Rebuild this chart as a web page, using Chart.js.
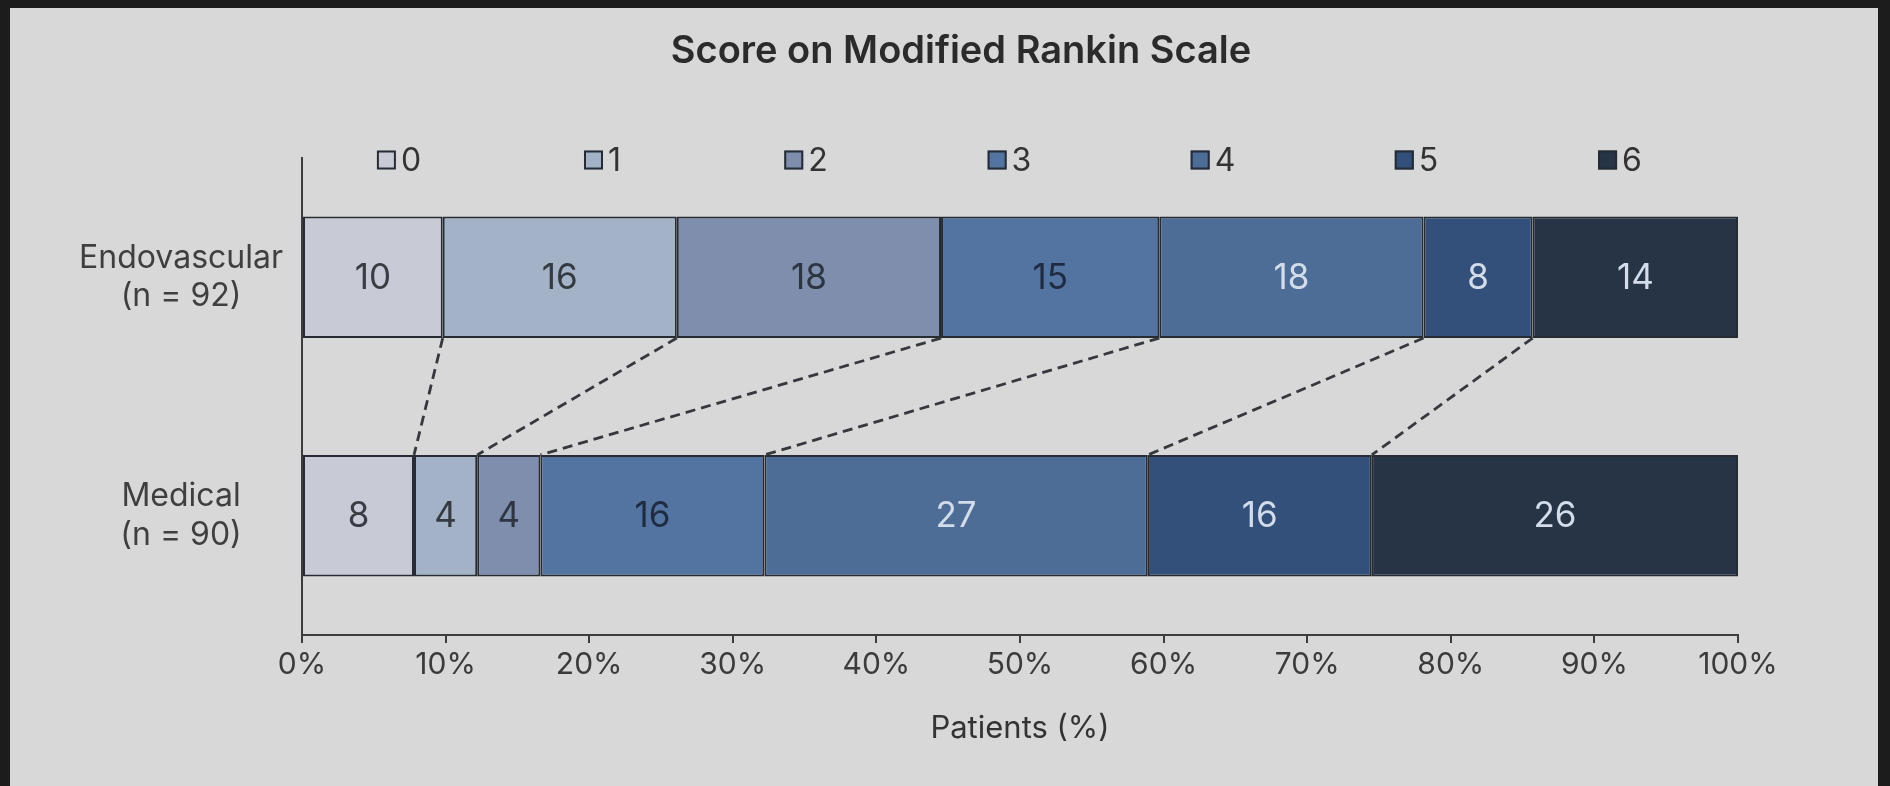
<!DOCTYPE html>
<html>
<head>
<meta charset="utf-8">
<script src="https://cdn.jsdelivr.net/npm/chart.js@4/dist/chart.umd.min.js"></script>
<style>
  html, body { margin: 0; padding: 0; background: #1c1c1c; width: 1890px; height: 786px; overflow: hidden; }
  #panel { position: absolute; left: 10px; top: 8px; right: 12px; bottom: 0; background: #d8d8d8; }
  #chart { position: absolute; left: 0; top: 0; }
</style>
</head>
<body>
<div id="panel"></div>
<canvas id="chart" width="1890" height="786"></canvas>
<script>
// Groups and modified Rankin scores
const groups = [['Endovascular', '(n = 92)'], ['Medical', '(n = 90)']];
const scores = ['0', '1', '2', '3', '4', '5', '6'];

// Share of patients (%) with each score, per group
const endovascularPct = [9.8, 16.3, 18.4, 15.2, 18.4, 7.6, 14.3];
const medicalPct = [7.8, 4.4, 4.4, 15.6, 26.7, 15.6, 25.5];

// Axis ticks (%)
const xTicks = [0, 10, 20, 30, 40, 50, 60, 70, 80, 90, 100];

const fills = ['#c8cbd5', '#a3b2c6', '#7e8eac', '#5374a1', '#4d6d97', '#32507a', '#263446'];
const labelInk = ['#3a3d44', '#353a42', '#2e3542', '#1f2b40', '#d3dcea', '#d3dcea', '#d3dcea'];
const edge = '#272c34';
const FONT = 'Inter, "Noto Sans", sans-serif';

const datasets = scores.map((s, i) => ({
  label: s,
  data: [endovascularPct[i], medicalPct[i]],
  backgroundColor: fills[i],
  borderColor: edge,
  borderWidth: 2,
  borderSkipped: false,
  categoryPercentage: 1,
  barPercentage: 0.51
}));

// Title and legend drawn above the plot
const headerPlugin = {
  id: 'header',
  afterDraw(chart) {
    const ctx = chart.ctx;
    ctx.save();
    ctx.fillStyle = '#2b2b2b';
    ctx.font = '600 38px ' + FONT;
    ctx.textAlign = 'center';
    ctx.textBaseline = 'middle';
    ctx.fillText('Score on Modified Rankin Scale', 961, 52);

    const start = 399.5, step = 203.5, cy = 160, box = 19;
    ctx.font = '400 32px ' + FONT;
    ctx.textAlign = 'left';
    chart.data.datasets.forEach((ds, i) => {
      const tw = ctx.measureText(ds.label).width;
      const w = box + 6 + tw;
      const x0 = start + step * i - w / 2;
      ctx.fillStyle = ds.backgroundColor;
      ctx.fillRect(x0, cy - box / 2, box, box);
      ctx.strokeStyle = edge;
      ctx.lineWidth = 2;
      ctx.strokeRect(x0 + 1, cy - box / 2 + 1, box - 2, box - 2);
      ctx.fillStyle = '#333333';
      ctx.fillText(ds.label, x0 + box + 5, cy + 1);
    });
    ctx.restore();
  }
};

// Dashed links joining matching cumulative boundaries of the two bars
const linkPlugin = {
  id: 'links',
  afterDatasetsDraw(chart) {
    const ctx = chart.ctx;
    ctx.save();
    ctx.strokeStyle = '#36383d';
    ctx.lineWidth = 2.8;
    ctx.setLineDash([10, 6]);
    for (let i = 0; i < chart.data.datasets.length - 1; i++) {
      const meta = chart.getDatasetMeta(i);
      const top = meta.data[0], bottom = meta.data[1];
      ctx.beginPath();
      ctx.moveTo(top.x, top.y + top.height / 2);
      ctx.lineTo(bottom.x, bottom.y - bottom.height / 2);
      ctx.stroke();
    }
    ctx.restore();
  }
};

// Rounded value printed in the middle of each segment
const valuePlugin = {
  id: 'values',
  afterDatasetsDraw(chart) {
    const ctx = chart.ctx;
    ctx.save();
    ctx.font = '400 35px ' + FONT;
    ctx.textAlign = 'center';
    ctx.textBaseline = 'middle';
    chart.data.datasets.forEach((ds, i) => {
      chart.getDatasetMeta(i).data.forEach((bar, j) => {
        const cx = (bar.x + bar.base) / 2;
        ctx.fillStyle = labelInk[i];
        ctx.fillText(String(Math.round(ds.data[j])), cx, bar.y + 1);
      });
    });
    ctx.restore();
  }
};

new Chart(document.getElementById('chart'), {
  type: 'bar',
  data: { labels: groups, datasets },
  options: {
    indexAxis: 'y',
    responsive: false,
    animation: false,
    devicePixelRatio: 1,
    layout: { padding: { top: 158, right: 152, bottom: 0, left: 0 } },
    plugins: {
      legend: { display: false },
      title: { display: false },
      tooltip: { enabled: false }
    },
    scales: {
      x: {
        type: 'linear',
        stacked: true,
        min: 0,
        max: 100,
        afterBuildTicks(scale) { scale.ticks = xTicks.map(v => ({ value: v })); },
        afterFit(scale) { scale.height = 151; },
        ticks: {
          callback: v => v + '%',
          color: '#3b3b3b',
          font: { family: FONT, size: 30 },
          padding: 4,
          maxRotation: 0
        },
        grid: { drawOnChartArea: false, drawTicks: true, tickLength: 8, color: '#3c3c3c', lineWidth: 2 },
        border: { display: true, color: '#3c3c3c', width: 2 },
        title: {
          display: true,
          text: 'Patients (%)',
          color: '#333333',
          font: { family: FONT, size: 31 },
          padding: { top: 0, bottom: 39 }
        }
      },
      y: {
        type: 'category',
        stacked: true,
        afterFit(scale) { scale.width = 302; },
        ticks: {
          crossAlign: 'center',
          padding: 19,
          color: '#3f3f3f',
          font: { family: FONT, size: 32, lineHeight: 1.2 }
        },
        grid: { drawOnChartArea: false, drawTicks: false },
        border: { display: true, color: '#3c3c3c', width: 2 }
      }
    }
  },
  plugins: [linkPlugin, valuePlugin, headerPlugin]
});
</script>
</body>
</html>
